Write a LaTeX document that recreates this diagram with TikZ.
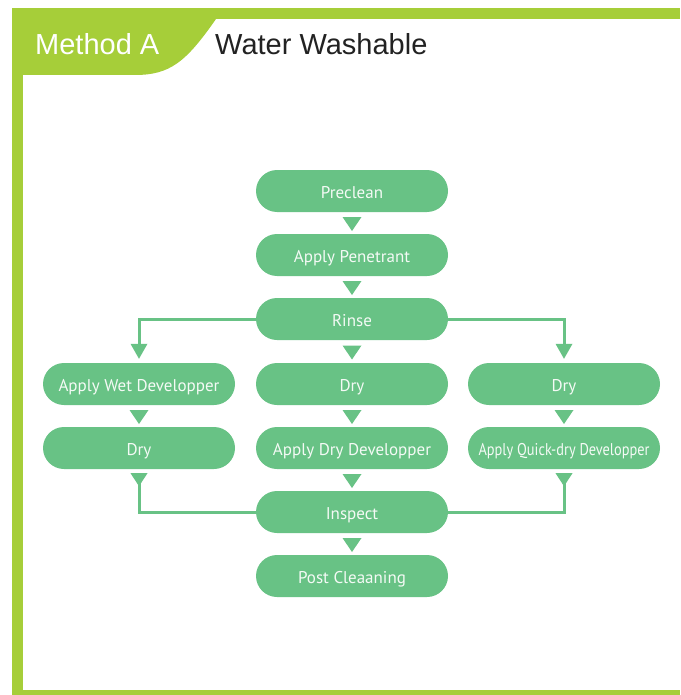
\documentclass[tikz,border=0pt]{standalone}
\usepackage{fontspec}
\setmainfont{Liberation Sans}
\newfontfamily\nodefont{PT Sans}
\usetikzlibrary{calc}
\definecolor{framegreen}{HTML}{A6CE39}
\definecolor{boxgreen}{HTML}{68C285}
\definecolor{boxtext}{HTML}{F4FAF5}
\definecolor{titletext}{HTML}{222222}
\begin{document}
\begin{tikzpicture}[x=1pt,y=-1pt,
  stepbox/.style={fill=boxgreen, rounded corners=21pt, minimum width=192pt, minimum height=42pt,
    inner sep=0pt, text height=16pt, text depth=2pt, text=boxtext, font=\nodefont\fontsize{17}{19}\selectfont},
  link/.style={draw=boxgreen, line width=3pt},
  tri/.style={fill=boxgreen}]
\useasboundingbox (0,0) rectangle (680,695);
% frame
\fill[framegreen] (12,8) rectangle (680,19);
\fill[framegreen] (12,8) rectangle (23,695);
\fill[framegreen] (12,690) rectangle (680,695);
\fill[framegreen] (12,19) -- (216,19) .. controls (186,62) and (170,75) .. (135,75) -- (12,75) -- cycle;
\node[anchor=base west, text=white, font=\fontsize{29}{32}\selectfont, inner sep=0pt] (meth) at (35,55) {Method A};
\node[anchor=base west, text=titletext, font=\fontsize{29}{32}\selectfont, inner sep=0pt] (title) at (215,55) {Water Washable};
% nodes
\node[stepbox] (pre) at (352,191) {Preclean};
\node[stepbox] (pen) at (352,255) {Apply Penetrant};
\node[stepbox] (rinse) at (352,319) {Rinse};
\node[stepbox] (wet) at (139,384) {Apply Wet Developper};
\node[stepbox] (dryc) at (352,384) {Dry};
\node[stepbox] (dryr) at (564,384) {Dry};
\node[stepbox] (dryl) at (139,448) {Dry};
\node[stepbox] (devc) at (352,448) {Apply Dry Developper};
\node[stepbox] (devr) at (564,448) {\resizebox{171pt}{\height}{Apply Quick-dry Developper}};
\node[stepbox] (insp) at (352,512) {Inspect};
\node[stepbox] (post) at (352,576) {Post Cleaaning};
% between-node triangles
\newcommand\downtri[2]{\fill[tri] ($(#1.south)!0.5!(#2.north)$) ++(-9.5,-6) -- ++(19,0) -- ++(-9.5,14) -- cycle;}
\downtri{pre}{pen}
\downtri{pen}{rinse}
\downtri{rinse}{dryc}
\downtri{dryc}{devc}
\downtri{devc}{insp}
\downtri{insp}{post}
\downtri{wet}{dryl}
\downtri{dryr}{devr}
% side branches from Rinse
\coordinate (wl) at ($(wet.north)+(0,-18)$);
\coordinate (wr) at ($(dryr.north)+(0,-18)$);
\draw[link] (rinse.west) -| (wl);
\draw[link] (rinse.east) -| (wr);
\fill[tri] ($(wet.north)+(-8.5,-19)$) -- ++(17,0) -- ($(wet.north)+(0,-4)$) -- cycle;
\fill[tri] ($(dryr.north)+(-8.5,-19)$) -- ++(17,0) -- ($(dryr.north)+(0,-4)$) -- cycle;
% merges into Inspect
\coordinate (dl) at ($(dryl.south)+(0,14)$);
\coordinate (dr) at ($(devr.south)+(0,14)$);
\draw[link] (dl) |- (insp.west);
\draw[link] (dr) |- (insp.east);
\fill[tri] ($(dryl.south)+(-8.5,4)$) -- ++(17,0) -- ($(dryl.south)+(0,17)$) -- cycle;
\fill[tri] ($(devr.south)+(-8.5,4)$) -- ++(17,0) -- ($(devr.south)+(0,17)$) -- cycle;
\end{tikzpicture}
\end{document}
